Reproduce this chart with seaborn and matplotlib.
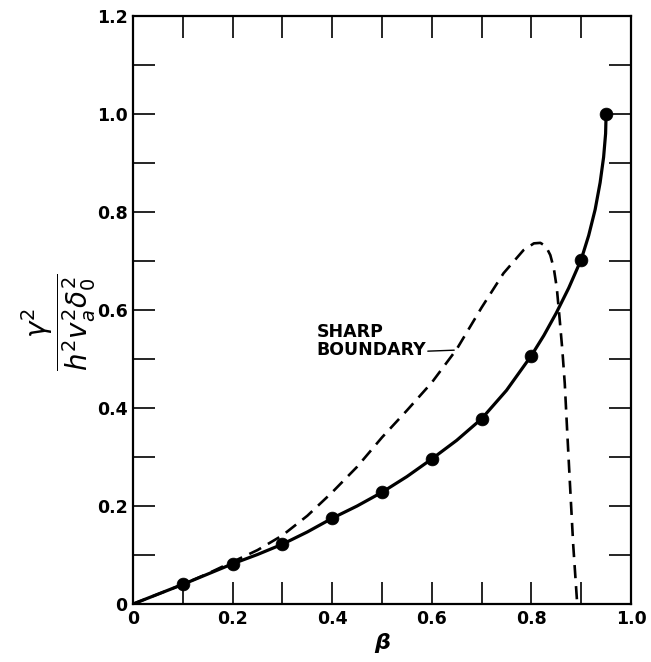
import numpy as np
import pandas as pd
import matplotlib
matplotlib.use("Agg")
import matplotlib.pyplot as plt
import seaborn as sns

# Growth rate versus beta: computed points, the smooth curve through them,
# and the sharp-boundary result for comparison.
beta_pts = [0.1, 0.2, 0.3, 0.4, 0.5, 0.6, 0.7, 0.8, 0.9, 0.95]
gamma_pts = [0.040, 0.082, 0.122, 0.175, 0.228, 0.296, 0.378, 0.507, 0.703, 1.000]

beta_curve = [0.0, 0.05, 0.1, 0.15, 0.2, 0.25, 0.3, 0.35, 0.4, 0.45, 0.5,
              0.55, 0.6, 0.65, 0.7, 0.75, 0.8, 0.825, 0.85, 0.875, 0.9,
              0.915, 0.928, 0.938, 0.945, 0.949, 0.95]
gamma_curve = [0.0, 0.020, 0.040, 0.061, 0.082, 0.101, 0.122, 0.147, 0.175,
               0.200, 0.228, 0.260, 0.296, 0.334, 0.378, 0.436, 0.507, 0.548,
               0.594, 0.645, 0.703, 0.752, 0.805, 0.860, 0.912, 0.960, 1.000]

beta_sharp = [0.0, 0.1, 0.15, 0.2, 0.25, 0.3, 0.35, 0.4, 0.45, 0.5, 0.55,
              0.6, 0.65, 0.7, 0.744, 0.784, 0.805, 0.818, 0.829, 0.838,
              0.845, 0.851, 0.856, 0.862, 0.867, 0.872, 0.877, 0.884, 0.892]
gamma_sharp = [0.0, 0.040, 0.062, 0.086, 0.110, 0.140, 0.180, 0.228, 0.280,
               0.340, 0.395, 0.452, 0.520, 0.605, 0.675, 0.722, 0.736, 0.737,
               0.730, 0.712, 0.685, 0.645, 0.590, 0.520, 0.450, 0.350, 0.253,
               0.120, 0.0]

x_ticks = [0.0, 0.2, 0.4, 0.6, 0.8, 1.0]
x_tick_labels = ["0", "0.2", "0.4", "0.6", "0.8", "1.0"]
y_ticks = [0.0, 0.2, 0.4, 0.6, 0.8, 1.0, 1.2]
y_tick_labels = ["0", "0.2", "0.4", "0.6", "0.8", "1.0", "1.2"]

sns.set_style("ticks")
plt.rcParams["font.family"] = ["DejaVu Sans"]
plt.rcParams["mathtext.fontset"] = "dejavusans"
plt.rcParams["text.color"] = "black"

fig = plt.figure(figsize=(6.51, 6.62), dpi=100)
ax = fig.add_axes([133 / 651, 58 / 662, 498 / 651, 588 / 662])

pts = pd.DataFrame({"beta": beta_pts, "g": gamma_pts})
curve = pd.DataFrame({"beta": beta_curve, "g": gamma_curve})
sharp = pd.DataFrame({"beta": beta_sharp, "g": gamma_sharp})

sns.lineplot(data=sharp, x="beta", y="g", ax=ax, color="black", lw=1.9,
             linestyle=(0, (5, 3)), sort=False, estimator=None)
sns.lineplot(data=curve, x="beta", y="g", ax=ax, color="black", lw=2.3,
             sort=False, estimator=None)
sns.scatterplot(data=pts, x="beta", y="g", ax=ax, color="black", s=85,
                edgecolor="black", linewidth=0.5, zorder=5)

ax.set_xlim(0, 1.0)
ax.set_ylim(0, 1.2)
ax.set_xticks(np.arange(0, 1.01, 0.1), minor=True)
ax.set_yticks(np.arange(0, 1.21, 0.1), minor=True)
ax.set_xticks(x_ticks)
ax.set_xticklabels(x_tick_labels)
ax.set_yticks(y_ticks)
ax.set_yticklabels(y_tick_labels)

for side in ["top", "right", "bottom", "left"]:
    ax.spines[side].set_visible(True)
    ax.spines[side].set_linewidth(1.6)
    ax.spines[side].set_color("black")

ax.tick_params(which="both", direction="in", length=16, width=1.2,
               top=True, right=True, colors="black")
ax.tick_params(which="major", labelsize=12.5, pad=4)
for lab in ax.get_xticklabels() + ax.get_yticklabels():
    lab.set_fontweight("bold")

ax.set_xlabel("β", fontsize=16, fontweight="bold", fontstyle="italic",
              color="black", labelpad=4)
ax.set_ylabel("")
ax.text(-0.15, 0.48, r"$\dfrac{\gamma^2}{h^2 v_a^2 \delta_0^2}$",
        transform=ax.transAxes, rotation=90, ha="center", va="center",
        fontsize=20, color="black")

ax.text(0.369, 0.537, "SHARP\nBOUNDARY", ha="left", va="center",
        fontsize=12.5, fontweight="bold", linespacing=1.05, color="black")
ax.annotate("", xy=(0.645, 0.518), xytext=(0.592, 0.516),
            arrowprops=dict(arrowstyle="-", color="black", lw=1.0,
                            shrinkA=0, shrinkB=0))

fig.savefig("out.png", dpi=100, facecolor="white")
